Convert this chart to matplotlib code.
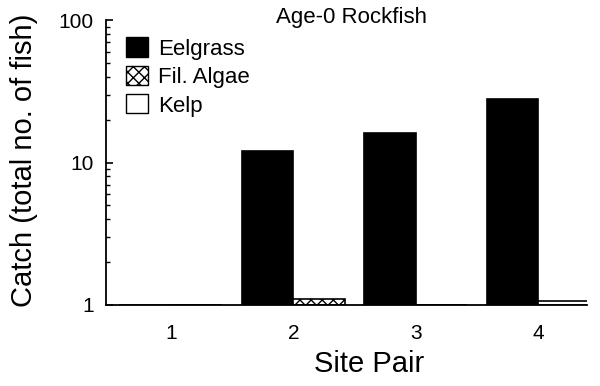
import numpy as np
import matplotlib
matplotlib.use("Agg")
import matplotlib.pyplot as plt
from matplotlib.patches import Patch

plt.rcParams['font.family'] = ['Liberation Sans', 'DejaVu Sans']

# data (log scale, baseline at 1)
sites = [1, 2, 3, 4]
site_labels = ['1', '2', '3', '4']
eelgrass = [1, 12, 16, 28]
fil_algae = [1, 1.1, 1, 1]
kelp = [1, 1, 1, 1.07]

x = np.array(sites, dtype=float)
w = 0.42

fig = plt.figure(figsize=(6, 3.86), dpi=100)
ax = fig.add_axes([106/600, 1-305/386, 481/600, 285/386])

ax.bar(x - w/2, np.array(eelgrass) - 1, bottom=1, width=w, color='black',
       edgecolor='black', linewidth=1.2)
ax.bar(x + w/2, np.array(fil_algae) - 1, bottom=1, width=w, color='white',
       edgecolor='black', hatch='xxx', linewidth=1.2)
ax.bar(x + w/2, np.array(kelp) - 1, bottom=1, width=w, color='white',
       edgecolor='black', linewidth=1.2)

ax.set_yscale('log')
ax.set_ylim(1, 100)
ax.set_xlim(0.47, 4.40)
ax.set_xticks(sites)
ax.set_xticklabels(site_labels)
ax.set_yticks([1, 10, 100])
ax.set_yticklabels(['1', '10', '100'])

for s in ['top', 'right']:
    ax.spines[s].set_visible(False)
for s in ['left', 'bottom']:
    ax.spines[s].set_linewidth(1.3)

ax.tick_params(axis='x', length=0, pad=14, labelsize=15)
ax.tick_params(axis='y', which='major', direction='in', length=5, width=1.2,
               pad=9, labelsize=15)
ax.tick_params(axis='y', which='minor', direction='in', length=3, width=1)

handles = [Patch(facecolor='black', edgecolor='black', label='Eelgrass'),
           Patch(facecolor='white', edgecolor='black', hatch='xxx', label='Fil. Algae'),
           Patch(facecolor='white', edgecolor='black', label='Kelp')]
ax.legend(handles=handles, loc='upper left', bbox_to_anchor=(0.023, 0.97),
          frameon=False, fontsize=16, handlelength=1.0, handleheight=0.95,
          handletextpad=0.45, labelspacing=0.28, borderaxespad=0)

fig.text(351/600, 1-17/386, 'Age-0 Rockfish', ha='center', va='center', fontsize=16)
fig.text(24/600, 1-160/386, 'Catch (total no. of fish)', rotation=90,
         ha='center', va='center', fontsize=21)
fig.text(369/600, 1-364/386, 'Site Pair', ha='center', va='center', fontsize=21)

fig.savefig('out.png', dpi=100)
